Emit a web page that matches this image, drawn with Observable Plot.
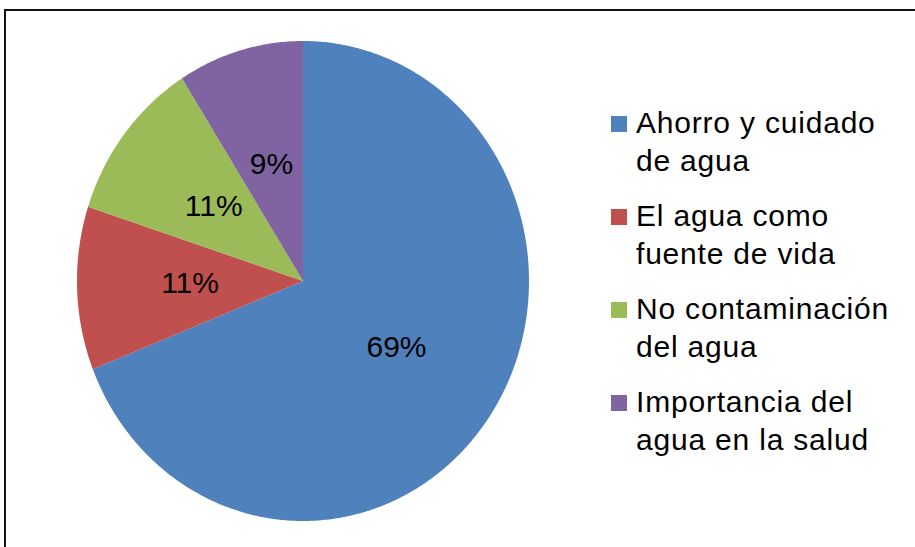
<!DOCTYPE html>
<html>
<head>
<meta charset="utf-8">
<script src="https://cdn.jsdelivr.net/npm/d3@7"></script>
<script src="https://cdn.jsdelivr.net/npm/@observablehq/plot@0.6"></script>
<style>
  html, body { margin: 0; padding: 0; background: #fff; }
  #wrap { position: relative; width: 915px; height: 547px; overflow: hidden; font-family: "Liberation Sans", Arial, sans-serif; }
  #frame { position: absolute; left: 4px; top: 9px; width: 1000px; height: 700px; border-left: 2px solid #111; border-top: 2px solid #111; box-sizing: border-box; }
  #chart { position: absolute; left: 0; top: 0; }
  #legend { position: absolute; left: 611px; top: 0; }
  .entry { position: absolute; left: 0; width: 300px; }
  .sw { position: absolute; left: 0; width: 16px; height: 16px; }
  .lbl { position: absolute; left: 25px; font-size: 30px; line-height: 38px; letter-spacing: 0.8px; color: #000; white-space: nowrap; }
</style>
</head>
<body>
<div id="wrap">
  <div id="frame"></div>
  <div id="chart"></div>
  <div id="legend"></div>
</div>
<script>
// Data
const categories = ["Ahorro y cuidado de agua", "El agua como fuente de vida", "No contaminación del agua", "Importancia del agua en la salud"];
const legendLines = [["Ahorro y cuidado", "de agua"], ["El agua como", "fuente de vida"], ["No contaminación", "del agua"], ["Importancia del", "agua en la salud"]];
const values = [69, 11, 11, 9];
const labels = ["69%", "11%", "11%", "9%"];
const colors = ["#4F81BD", "#C0504D", "#9BBB59", "#8064A2"];

// Build slices (angles clockwise from 12 o'clock)
const total = d3.sum(values);
let acc = 0;
const slices = values.map((v, i) => {
  const a0 = acc / total * 2 * Math.PI;
  acc += v;
  const a1 = acc / total * 2 * Math.PI;
  return {cat: categories[i], a0, a1, label: labels[i]};
});
const pts = [];
for (const s of slices) {
  pts.push({cat: s.cat, x: 0, y: 0});
  const n = Math.max(2, Math.ceil((s.a1 - s.a0) / (Math.PI / 360)));
  for (let k = 0; k <= n; k++) {
    const a = s.a0 + (s.a1 - s.a0) * k / n;
    pts.push({cat: s.cat, x: Math.sin(a), y: Math.cos(a)});
  }
  pts.push({cat: s.cat, x: 0, y: 0});
}
const labelPts = slices.map(s => {
  const m = (s.a0 + s.a1) / 2;
  return {label: s.label, x: 0.5 * Math.sin(m), y: 0.5 * Math.cos(m)};
});

const W = 915, H = 547;
const cx = 302.5, cy = 280.5, rx = 226, ry = 240;
const plot = Plot.plot({
  width: W,
  height: H,
  marginLeft: cx - rx,
  marginRight: W - (cx + rx),
  marginTop: cy - ry,
  marginBottom: H - (cy + ry),
  x: {domain: [-1, 1], axis: null},
  y: {domain: [-1, 1], axis: null},
  color: {domain: categories, range: colors},
  style: {background: "transparent", fontFamily: "'Liberation Sans', Arial, sans-serif"},
  marks: [
    Plot.line(pts, {x: "x", y: "y", z: "cat", fill: "cat", stroke: "none"}),
    Plot.text(labelPts, {x: "x", y: "y", text: "label", fontSize: 30, fill: "#000", dy: -1})
  ]
});
document.getElementById("chart").appendChild(plot);

// Legend
const legend = document.getElementById("legend");
categories.forEach((c, i) => {
  const top = 103.6 + i * 93;
  const e = document.createElement("div");
  e.className = "entry";
  e.style.top = top + "px";
  const sw = document.createElement("div");
  sw.className = "sw";
  sw.style.background = colors[i];
  sw.style.top = "12px";
  e.appendChild(sw);
  const l = document.createElement("div");
  l.className = "lbl";
  l.style.top = "0px";
  l.innerHTML = legendLines[i].join("<br>");
  e.appendChild(l);
  legend.appendChild(e);
});
</script>
</body>
</html>
